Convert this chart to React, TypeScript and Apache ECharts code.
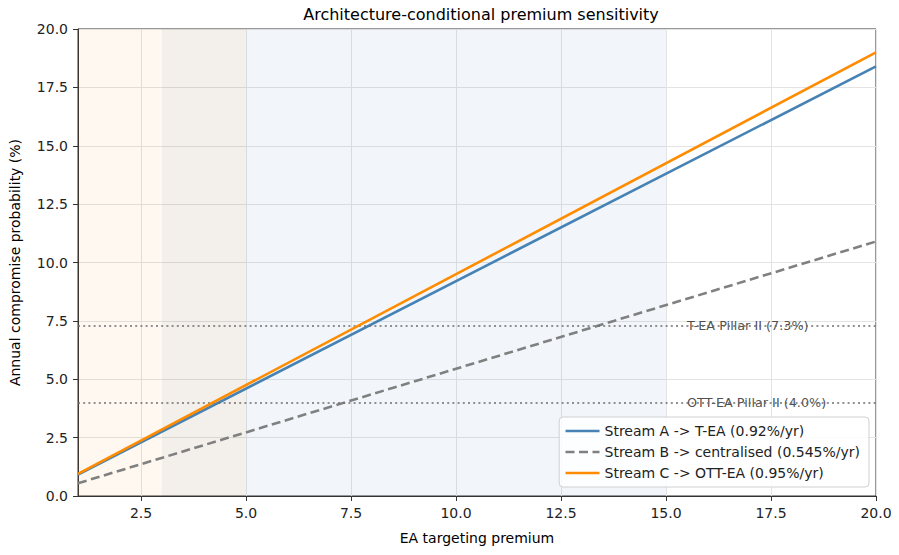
import React, { useEffect, useRef } from "react";
import * as echarts from "echarts";

// Premium range and tick positions
const xTicks = [2.5, 5.0, 7.5, 10.0, 12.5, 15.0, 17.5, 20.0];

// Series endpoints (premium, annual compromise probability %)
const streamA = [
  [1, 0.92],
  [20, 18.4],
];
const streamB = [
  [1, 0.545],
  [20, 10.9],
];
const streamC = [
  [1, 0.95],
  [20, 19.0],
];

const seriesNames = [
  "Stream A -> T-EA (0.92%/yr)",
  "Stream B -> centralised (0.545%/yr)",
  "Stream C -> OTT-EA (0.95%/yr)",
];

// Pillar II thresholds
const pillarLevels = [7.3, 4.0];
const pillarLabels = ["T-EA Pillar II (7.3%)", "OTT-EA Pillar II (4.0%)"];
const pillarLabelX = 15.5;

// Shaded premium bands [from, to]
const bands = [
  [1, 3],
  [3, 5],
  [5, 15],
];
const bandColors = [
  "rgba(240,128,0,0.06)",
  "rgba(135,105,55,0.10)",
  "rgba(70,130,180,0.07)",
];

const FONT = "DejaVu Sans";

export default function App() {
  const ref = useRef<HTMLDivElement>(null);

  useEffect(() => {
    document.body.style.margin = "0";
    const chart = echarts.init(ref.current!, null, { renderer: "svg" });

    const fmt = (v: number) => v.toFixed(1);

    chart.setOption({
      animation: false,
      textStyle: { fontFamily: FONT },
      title: {
        text: "Architecture-conditional premium sensitivity",
        left: 476,
        top: 1,
        textAlign: "center",
        textStyle: { fontFamily: FONT, fontSize: 16, fontWeight: "normal", color: "#000" },
      },
      grid: {
        left: 76,
        right: 23,
        top: 29,
        bottom: 59,
        show: true,
        borderColor: "#333",
        borderWidth: 1,
        backgroundColor: "transparent",
      },
      legend: {
        orient: "vertical",
        right: 30,
        bottom: 68,
        backgroundColor: "rgba(255,255,255,0.85)",
        borderColor: "#d0d0d0",
        borderWidth: 1,
        borderRadius: 4,
        padding: [7, 9, 7, 5],
        itemGap: 7,
        itemWidth: 34,
        itemHeight: 14,
        itemStyle: { opacity: 0 },
        lineStyle: { width: 2.6 },
        textStyle: { fontFamily: FONT, fontSize: 14, color: "#222" },
        data: seriesNames,
      },
      xAxis: {
        type: "value",
        min: 1,
        max: 20,
        name: "EA targeting premium",
        nameLocation: "middle",
        nameGap: 35,
        nameTextStyle: { fontFamily: FONT, fontSize: 14, color: "#000" },
        axisLine: { show: true, lineStyle: { color: "#333" } },
        axisTick: {
          show: true,
          inside: false,
          length: 5,
          customValues: xTicks,
          lineStyle: { color: "#333" },
        },
        axisLabel: {
          customValues: xTicks,
          formatter: fmt,
          fontFamily: FONT,
          fontSize: 14,
          color: "#222",
          margin: 10,
          showMinLabel: true,
          showMaxLabel: true,
        },
        splitLine: { show: true, lineStyle: { color: "#e3e3e3", width: 1 } },
      },
      yAxis: {
        type: "value",
        min: 0,
        max: 20,
        interval: 2.5,
        name: "Annual compromise probability (%)",
        nameLocation: "middle",
        nameGap: 56,
        nameTextStyle: { fontFamily: FONT, fontSize: 14, color: "#000" },
        axisLine: { show: true, lineStyle: { color: "#333" } },
        axisTick: { show: true, inside: false, length: 5, lineStyle: { color: "#333" } },
        axisLabel: {
          formatter: fmt,
          fontFamily: FONT,
          fontSize: 14,
          color: "#222",
          margin: 10,
        },
        splitLine: { show: true, lineStyle: { color: "#e3e3e3", width: 1 } },
      },
      series: [
        {
          name: seriesNames[0],
          type: "line",
          data: streamA,
          showSymbol: false,
          symbol: "none",
          z: 4,
          lineStyle: { color: "#4682b4", width: 2.6 },
          itemStyle: { color: "#4682b4" },
          markArea: {
            silent: true,
            data: bands.map((b, i) => [
              { xAxis: b[0], itemStyle: { color: bandColors[i] } },
              { xAxis: b[1] },
            ]),
          },
          markLine: {
            silent: true,
            symbol: "none",
            label: { show: false },
            lineStyle: { color: "#6e6e6e", width: 1.6, type: [2, 3.2] },
            data: pillarLevels.map((v) => ({ yAxis: v })),
          },
        },
        {
          name: seriesNames[1],
          type: "line",
          data: streamB,
          showSymbol: false,
          symbol: "none",
          z: 3,
          lineStyle: { color: "#808080", width: 2.6, type: [9, 4.5] },
          itemStyle: { color: "#808080" },
        },
        {
          name: seriesNames[2],
          type: "line",
          data: streamC,
          showSymbol: false,
          symbol: "none",
          z: 5,
          lineStyle: { color: "#ff8c00", width: 2.6 },
          itemStyle: { color: "#ff8c00" },
        },
        {
          type: "scatter",
          symbolSize: 0,
          silent: true,
          z: 2,
          data: pillarLevels.map((v, i) => [pillarLabelX, v, pillarLabels[i]]),
          label: {
            show: true,
            position: "inside",
            align: "left",
            verticalAlign: "middle",
            fontFamily: FONT,
            fontSize: 12.8,
            color: "#222",
            formatter: (p: any) => p.value[2],
          },
        },
      ],
    });

    return () => chart.dispose();
  }, []);

  return <div ref={ref} style={{ width: 899, height: 555 }} />;
}
